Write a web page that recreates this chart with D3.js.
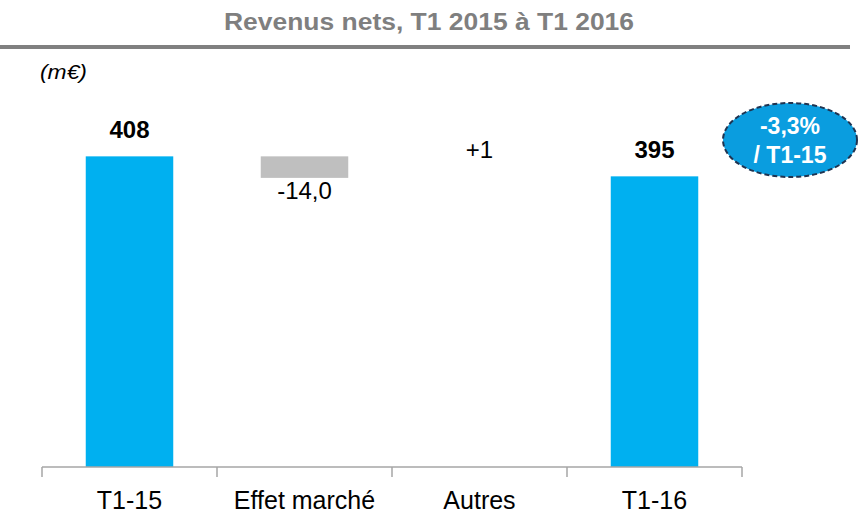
<!DOCTYPE html>
<html>
<head>
<meta charset="UTF-8">
<script src="https://d3js.org/d3.v7.min.js"></script>
<style>
  body { margin: 0; background: #fff; }
  text { font-family: "Liberation Sans", Arial, sans-serif; }
</style>
</head>
<body>
<svg width="862" height="514"></svg>
<script>
// données (m€)
var categories = ["T1-15", "Effet marché", "Autres", "T1-16"];
var kinds = ["total", "delta", "delta", "total"];
var values = [408, -14, 1, 395];
var valueLabels = ["408", "-14,0", "+1", "395"];
var badgeLines = ["-3,3%", "/ T1-15"];

var svg = d3.select("svg");
var baseY = 467;

// construire les segments de cascade
var running = 0;
var steps = categories.map(function(c, i) {
    var lo, hi;
    if (kinds[i] == "total") {
        running = values[i];
        lo = null; hi = values[i];
    } else {
        var start = running;
        running = running + values[i];
        lo = Math.min(start, running); hi = Math.max(start, running);
    }
    return {cat: c, kind: kinds[i], v: values[i], lo: lo, hi: hi, label: valueLabels[i]};
});

var x = d3.scaleBand().domain(categories).range([42, 742]).paddingInner(0.5).paddingOuter(0.25);
var y = d3.scaleLinear().domain([206, 420]).range([baseY, 137.9]);

// titre
svg.append("text")
    .attr("x", 429).attr("y", 30)
    .attr("text-anchor", "middle")
    .attr("font-size", "23.5px").attr("font-weight", "bold")
    .attr("fill", "#7f7f7f")
    .attr("textLength", 410).attr("lengthAdjust", "spacingAndGlyphs")
    .text("Revenus nets, T1 2015 à T1 2016");

svg.append("line")
    .attr("x1", 0).attr("x2", 850).attr("y1", 47).attr("y2", 47)
    .attr("stroke", "#808080").attr("stroke-width", 4);

svg.append("text")
    .attr("x", 40).attr("y", 79)
    .attr("font-size", "21px").attr("font-style", "italic")
    .attr("textLength", 47).attr("lengthAdjust", "spacingAndGlyphs")
    .text("(m€)");

// barres
svg.selectAll(".bar")
    .data(steps)
    .enter()
    .append("rect")
    .attr("class", "bar")
    .attr("x", function(d) { return x(d.cat); })
    .attr("width", x.bandwidth())
    .attr("y", function(d) { return y(d.hi); })
    .attr("height", function(d) {
        return d.kind == "total" ? baseY - y(d.hi) : y(d.lo) - y(d.hi);
    })
    .attr("fill", function(d) {
        if (d.kind == "total") return "#00b0f0";
        return d.v < 0 ? "#bfbfbf" : "none";
    });

// étiquettes de valeurs
svg.selectAll(".val")
    .data(steps)
    .enter()
    .append("text")
    .attr("class", "val")
    .attr("x", function(d) { return x(d.cat) + x.bandwidth() / 2; })
    .attr("y", function(d) {
        if (d.kind == "delta" && d.v < 0) return y(d.lo) + 21;
        return y(d.hi) - 18;
    })
    .attr("text-anchor", "middle")
    .attr("font-size", "24px")
    .attr("font-weight", function(d) { return d.kind == "total" ? "bold" : "normal"; })
    .text(function(d) { return d.label; });

// axe
var axis = svg.append("g")
    .attr("transform", "translate(0," + baseY + ")");
axis.append("line")
    .attr("x1", 42).attr("x2", 742)
    .attr("stroke", "#a6a6a6").attr("stroke-width", 1.5);
var step = x.step();
axis.selectAll(".tk")
    .data(d3.range(categories.length + 1))
    .enter()
    .append("line")
    .attr("x1", function(i) { return 42 + i * step; })
    .attr("x2", function(i) { return 42 + i * step; })
    .attr("y1", 0).attr("y2", 10)
    .attr("stroke", "#a6a6a6").attr("stroke-width", 1.5);
axis.selectAll(".cat")
    .data(categories)
    .enter()
    .append("text")
    .attr("x", function(d) { return x(d) + x.bandwidth() / 2; })
    .attr("y", 42)
    .attr("text-anchor", "middle")
    .attr("font-size", "25px")
    .text(function(d) { return d; });

// bulle
var b = svg.append("g").attr("transform", "translate(790,140)");
b.append("ellipse")
    .attr("rx", 67).attr("ry", 37)
    .attr("fill", "#0a9ddf")
    .attr("stroke", "#1f3350").attr("stroke-width", 2)
    .attr("stroke-dasharray", "5,3");
b.selectAll("text")
    .data(badgeLines)
    .enter()
    .append("text")
    .attr("x", 0)
    .attr("y", function(d, i) { return -6 + i * 29; })
    .attr("text-anchor", "middle")
    .attr("font-size", "23px").attr("font-weight", "bold")
    .attr("fill", "#fff")
    .text(function(d) { return d; });
</script>
</body>
</html>
